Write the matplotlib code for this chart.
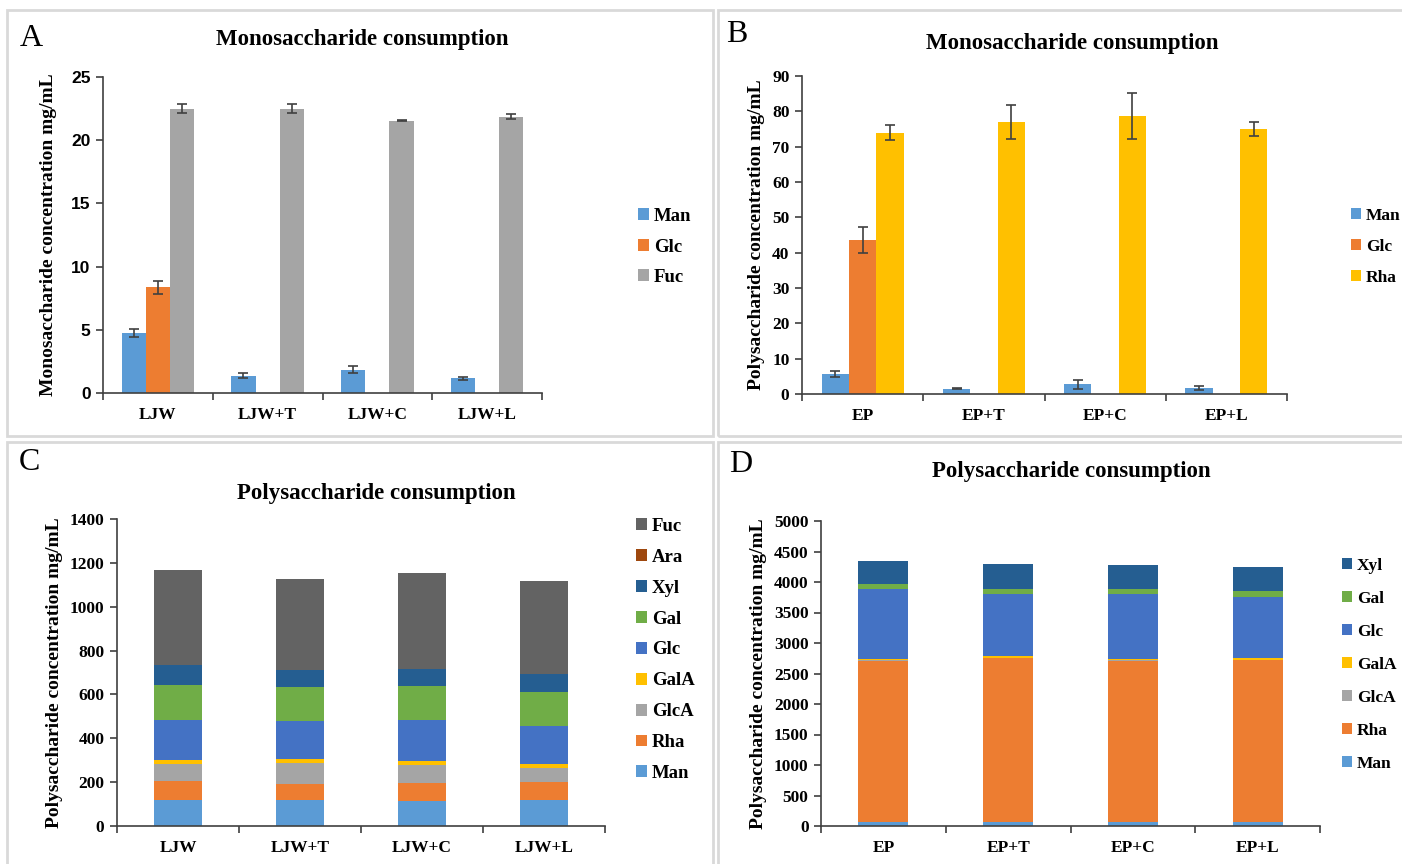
import numpy as np
import matplotlib
matplotlib.use("Agg")
import matplotlib.pyplot as plt
from matplotlib.patches import Rectangle

plt.rcParams['font.family'] = ['Liberation Serif', 'DejaVu Serif']

# ---- data ----
groups_a = ["LJW", "LJW+T", "LJW+C", "LJW+L"]
mono_a_labels = ["Man", "Glc", "Fuc"]
mono_a_man = [4.75, 1.37, 1.85, 1.16]
mono_a_glc = [8.35, 0, 0, 0]
mono_a_fuc = [22.5, 22.5, 21.55, 21.87]
mono_a_man_err = [0.35, 0.2, 0.29, 0.1]
mono_a_glc_err = [0.52, 0, 0, 0]
mono_a_fuc_err = [0.35, 0.34, 0.05, 0.18]

groups_b = ["EP", "EP+T", "EP+C", "EP+L"]
mono_b_labels = ["Man", "Glc", "Rha"]
mono_b_man = [5.7, 1.5, 2.7, 1.7]
mono_b_glc = [43.5, 0, 0, 0]
mono_b_rha = [74.0, 77.0, 78.6, 75.0]
mono_b_man_err = [0.75, 0.2, 1.3, 0.6]
mono_b_glc_err = [3.7, 0, 0, 0]
mono_b_rha_err = [2.1, 4.9, 6.5, 2.1]

poly_c_labels = ["Man", "Rha", "GlcA", "GalA", "Glc", "Gal", "Xyl", "Ara", "Fuc"]
poly_c_man = [119, 119, 113, 117]
poly_c_rha = [88, 74, 83, 82]
poly_c_glca = [76, 93, 82, 67]
poly_c_gala = [17, 19, 20, 17]
poly_c_glc = [185, 176, 187, 174]
poly_c_gal = [160, 152, 153, 152]
poly_c_xyl = [90, 78, 80, 82]
poly_c_ara = [0.1, 0.1, 0.1, 0.1]
poly_c_fuc = [432, 415, 434, 426]

poly_d_labels = ["Man", "Rha", "GlcA", "GalA", "Glc", "Gal", "Xyl"]
poly_d_man = [70, 70, 70, 70]
poly_d_rha = [2639, 2678, 2639, 2651]
poly_d_glca = [5, 5, 5, 5]
poly_d_gala = [28, 27, 28, 30]
poly_d_glc = [1140, 1016, 1054, 1005]
poly_d_gal = [88, 88, 88, 93]
poly_d_xyl = [370, 415, 387, 399]

colors = {"Man": "#5B9BD5", "Glc": "#4472C4", "Rha": "#ED7D31", "GlcA": "#A5A5A5",
          "GalA": "#FFC000", "Gal": "#70AD47", "Xyl": "#255E91", "Ara": "#9E480E",
          "Fuc": "#636363"}
colors_a = {"Man": "#5B9BD5", "Glc": "#ED7D31", "Fuc": "#A5A5A5"}
colors_b = {"Man": "#5B9BD5", "Glc": "#ED7D31", "Rha": "#FFC000"}

W, H = 1402, 864
fig = plt.figure(figsize=(W / 100, H / 100), dpi=100)


def px_axes(l, t, r, b):
    return fig.add_axes([l / W, 1 - b / H, (r - l) / W, (b - t) / H])


def fx(x):
    return x / W


def fy(y):
    return 1 - y / H


# panel frames
for (l, t, r, b) in [(7, 10, 713, 436), (718, 10, 1410, 436),
                     (7, 442, 713, 870), (718, 442, 1410, 870)]:
    fig.patches.append(Rectangle((fx(l), fy(b)), (r - l) / W, (b - t) / H,
                                 transform=fig.transFigure, fill=False,
                                 edgecolor="#d9d9d9", linewidth=2))

bold_serif = dict(family=['Liberation Serif'], weight='bold')


def style_axes(ax, groups, ymax, step, tick_family):
    ax.set_xlim(-0.5, len(groups) - 0.5)
    ax.set_ylim(0, ymax)
    ax.set_yticks(np.arange(0, ymax + step / 2, step))
    for s in ["top", "right"]:
        ax.spines[s].set_visible(False)
    for s in ["left", "bottom"]:
        ax.spines[s].set_color("#404040")
        ax.spines[s].set_linewidth(1.2)
    ax.set_xticks(np.arange(len(groups)))
    ax.set_xticklabels(groups, fontsize=12.5, **bold_serif)
    ax.tick_params(axis="x", which="major", length=0, pad=10)
    ax.set_xticks(np.arange(-0.5, len(groups)), minor=True)
    ax.tick_params(axis="x", which="minor", length=5, width=1.2, color="#404040")
    ax.tick_params(axis="y", length=5, width=1.2, color="#404040", pad=4)
    for lab in ax.get_yticklabels():
        lab.set_fontfamily(tick_family)
        lab.set_fontweight("bold")
        lab.set_fontsize(12.5)


def grouped(ax, vals, errs, labels, cmap, width):
    x = np.arange(4)
    handles = []
    for i, (v, e, lab) in enumerate(zip(vals, errs, labels)):
        pos = x + (i - 1) * width
        handles.append(ax.bar(pos, v, width, color=cmap[lab], label=lab))
        v = np.array(v, float)
        e = np.array(e, float)
        m = v > 0
        ax.errorbar(pos[m], v[m], yerr=e[m], fmt="none", ecolor="#404040",
                    elinewidth=1.2, capsize=3.5, capthick=1.2)
    return handles


def stacked(ax, series, labels, width):
    x = np.arange(4)
    bottom = np.zeros(4)
    handles = []
    for v, lab in zip(series, labels):
        handles.append(ax.bar(x, v, width, bottom=bottom, color=colors[lab], label=lab))
        bottom += np.array(v, float)
    return handles


def legend(ax, handles, labels, x, y, size, spacing):
    ax.legend(handles, labels, loc="upper left", bbox_to_anchor=(fx(x), fy(y)),
              bbox_transform=fig.transFigure, frameon=False,
              handlelength=0.6, handleheight=0.6, handletextpad=0.25,
              labelspacing=spacing, borderpad=0, borderaxespad=0,
              prop=dict(family='Liberation Serif', weight='bold', size=size))


ylab_size = 14

# ---- A ----
axA = px_axes(103, 77, 542, 393)
hA = grouped(axA, [mono_a_man, mono_a_glc, mono_a_fuc],
             [mono_a_man_err, mono_a_glc_err, mono_a_fuc_err], mono_a_labels, colors_a, 0.22)
style_axes(axA, groups_a, 25, 5, "Liberation Sans")
axA.set_ylabel("Monosaccharide concentration mg/mL", fontsize=ylab_size, labelpad=10, **bold_serif)
legend(axA, hA, mono_a_labels, 638, 208, 13.5, 0.72)

# ---- B ----
axB = px_axes(802, 76, 1287, 394)
hB = grouped(axB, [mono_b_man, mono_b_glc, mono_b_rha],
             [mono_b_man_err, mono_b_glc_err, mono_b_rha_err], mono_b_labels, colors_b, 0.225)
style_axes(axB, groups_b, 90, 10, "Liberation Serif")
axB.set_ylabel("Polysaccharide concentration mg/mL", fontsize=ylab_size, labelpad=5, **bold_serif)
legend(axB, hB, mono_b_labels, 1351, 208, 12.5, 0.86)

# ---- C ----
axC = px_axes(117, 519, 605, 826)
hC = stacked(axC, [poly_c_man, poly_c_rha, poly_c_glca, poly_c_gala, poly_c_glc,
                   poly_c_gal, poly_c_xyl, poly_c_ara, poly_c_fuc], poly_c_labels, 0.40)
style_axes(axC, groups_a, 1400, 200, "Liberation Serif")
axC.set_ylabel("Polysaccharide concentration mg/mL", fontsize=ylab_size, labelpad=5, **bold_serif)
legend(axC, hC[::-1], poly_c_labels[::-1], 636, 518, 13.5, 0.74)

# ---- D ----
axD = px_axes(821, 521, 1320, 826)
hD = stacked(axD, [poly_d_man, poly_d_rha, poly_d_glca, poly_d_gala, poly_d_glc,
                   poly_d_gal, poly_d_xyl], poly_d_labels, 0.40)
style_axes(axD, groups_b, 5000, 500, "Liberation Serif")
axD.set_ylabel("Polysaccharide concentration mg/mL", fontsize=ylab_size, labelpad=5, **bold_serif)
legend(axD, hD[::-1], poly_d_labels[::-1], 1342, 558, 12.5, 0.98)

# titles and panel letters
fig.text(fx(362), fy(40), "Monosaccharide consumption", ha="center", va="center",
         fontsize=16.5, **bold_serif)
fig.text(fx(1072), fy(44), "Monosaccharide consumption", ha="center", va="center",
         fontsize=16.5, **bold_serif)
fig.text(fx(376), fy(493), "Polysaccharide consumption", ha="center", va="center",
         fontsize=16.5, **bold_serif)
fig.text(fx(1071), fy(472), "Polysaccharide consumption", ha="center", va="center",
         fontsize=16.5, **bold_serif)
for letter, x, y in [("A", 31, 39), ("B", 737, 34), ("C", 29, 463), ("D", 741, 464)]:
    fig.text(fx(x), fy(y), letter, ha="center", va="center", fontsize=23,
             family=['Liberation Serif'])

fig.savefig("out.png", dpi=100)
